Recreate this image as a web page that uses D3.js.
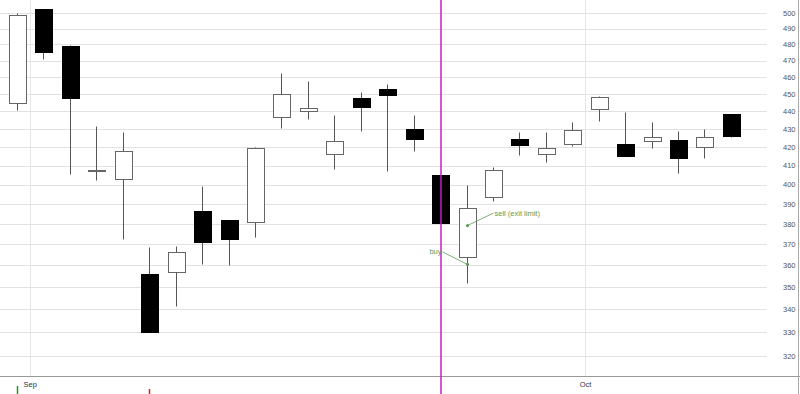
<!DOCTYPE html>
<html>
<head>
<meta charset="utf-8">
<script src="https://cdn.jsdelivr.net/npm/d3@7"></script>
<style>
  body { margin: 0; background: #fff; }
  #chart { width: 800px; height: 394px; }
  text { font-family: "Liberation Sans", Arial, sans-serif; }
</style>
</head>
<body>
<div id="chart"></div>
<script>
// trading days (Aug 31 .. Oct 8)
const dates = ['2009-08-31',
    '2009-09-01','2009-09-02','2009-09-03','2009-09-04','2009-09-08','2009-09-09','2009-09-10',
    '2009-09-11','2009-09-14','2009-09-15','2009-09-16','2009-09-17','2009-09-18','2009-09-21',
    '2009-09-22','2009-09-23','2009-09-24','2009-09-25','2009-09-28','2009-09-29','2009-09-30',
    '2009-10-01','2009-10-02','2009-10-05','2009-10-06','2009-10-07','2009-10-08'];
const opens  = [444.7, 502.6, 479.2, 407.5, 402.9, 355.9, 356.8, 386.3, 381.9, 381.1, 436.9, 440.2, 416.0, 447.8,
                452.9, 429.8, 405.0, 363.9, 393.7, 424.6, 416.2, 421.5, 441.1, 421.5, 423.4, 423.8, 420.0, 438.6];
const highs  = [500.0, 502.8, 479.4, 431.6, 428.1, 368.9, 369.2, 399.2, 382.0, 420.2, 462.3, 457.9, 437.8, 451.0,
                455.9, 438.0, 405.1, 399.7, 409.4, 428.5, 428.5, 434.1, 449.0, 439.4, 434.1, 429.0, 430.0, 438.7];
const lows   = [440.7, 470.9, 405.5, 402.3, 372.5, 330.0, 341.5, 360.6, 360.2, 373.4, 430.7, 435.4, 407.9, 428.8,
                407.2, 417.8, 380.5, 351.7, 391.5, 415.8, 411.7, 420.5, 434.6, 415.0, 419.6, 406.2, 413.9, 425.7];
const closes = [498.7, 475.3, 447.5, 407.6, 418.0, 330.3, 366.2, 371.3, 372.7, 419.3, 449.8, 441.7, 423.3, 442.6,
                449.6, 424.4, 380.6, 387.8, 407.6, 421.3, 419.3, 429.4, 448.1, 415.1, 425.5, 414.0, 425.3, 426.0];

const yTicks = [320, 330, 340, 350, 360, 370, 380, 390, 400, 410, 420, 430, 440, 450, 460, 470, 480, 490, 500];
const monthStarts = ['2009-09-01', '2009-10-01'];
const monthLabels = ['Sep', 'Oct'];

const cursorDate = '2009-09-23';
const tradeDates = ['2009-09-24', '2009-09-24'];
const tradePrices = [360.5, 379.2];
const tradeLabels = ['buy', 'sell (exit limit)'];
const markDates = ['2009-08-31', '2009-09-08'];
const markSides = ['buy', 'sell'];

const candles = dates.map((d, i) => ({date: d, open: opens[i], high: highs[i], low: lows[i], close: closes[i]}));

const W = 800, H = 394;
const plotRight = 767, plotBottom = 376;

const svg = d3.select('#chart').append('svg')
    .attr('width', W)
    .attr('height', H)
    .style('display', 'block');

const x = d3.scaleBand()
    .domain(dates)
    .range([3.8, 3.8 + 26.44 * dates.length])
    .padding(0);

const y = d3.scaleLog()
    .domain([320, 500])
    .range([356, 13]);

const cx = d => Math.round(x(d) + x.bandwidth() / 2) + 0.5;
const py = v => Math.round(y(v)) + 0.5;

// horizontal grid + right labels
const yAxis = d3.axisRight(y)
    .tickValues(yTicks)
    .tickFormat(d3.format('d'))
    .tickSize(-plotRight)
    .tickPadding(16);

const gy = svg.append('g')
    .attr('class', 'y-axis')
    .attr('transform', `translate(${plotRight},0)`)
    .call(yAxis);
gy.select('.domain').remove();
gy.selectAll('.tick line').attr('stroke', '#e2e2e2').attr('shape-rendering', 'crispEdges');
gy.selectAll('.tick text')
    .attr('fill', '#555')
    .attr('font-size', '7.5px');

// month grid lines and labels
svg.selectAll('.month-line')
    .data(monthStarts)
    .join('line')
    .attr('class', 'month-line')
    .attr('x1', d => Math.round(x(d)) + 0.5)
    .attr('x2', d => Math.round(x(d)) + 0.5)
    .attr('y1', 0)
    .attr('y2', plotBottom)
    .attr('stroke', '#e6e6e6');

svg.selectAll('.month-label')
    .data(monthStarts)
    .join('text')
    .attr('class', 'month-label')
    .attr('x', d => x(d))
    .attr('y', 387)
    .attr('text-anchor', 'middle')
    .attr('font-size', '7.5px')
    .attr('fill', '#333')
    .text((d, i) => monthLabels[i]);

// bottom axis line and right border
svg.append('line')
    .attr('x1', 0).attr('x2', W)
    .attr('y1', plotBottom + 0.5).attr('y2', plotBottom + 0.5)
    .attr('stroke', '#999');

svg.append('line')
    .attr('x1', W - 1.5).attr('x2', W - 1.5)
    .attr('y1', 0).attr('y2', H)
    .attr('stroke', '#aaa');

// wicks
svg.selectAll('.wick')
    .data(candles)
    .join('line')
    .attr('class', 'wick')
    .attr('x1', d => cx(d.date))
    .attr('x2', d => cx(d.date))
    .attr('y1', d => py(d.high))
    .attr('y2', d => py(d.low))
    .attr('stroke', '#555');

// bodies
const bw = 17;
svg.selectAll('.body')
    .data(candles)
    .join('rect')
    .attr('class', 'body')
    .attr('x', d => cx(d.date) - bw / 2)
    .attr('width', bw)
    .attr('y', d => py(Math.max(d.open, d.close)))
    .attr('height', d => Math.max(1, py(Math.min(d.open, d.close)) - py(Math.max(d.open, d.close))))
    .attr('fill', d => d.close < d.open ? '#000' : '#fff')
    .attr('stroke', d => d.close < d.open ? '#000' : '#666')
    .attr('shape-rendering', 'crispEdges');

// cursor line
svg.append('line')
    .attr('x1', cx(cursorDate) + 0.5)
    .attr('x2', cx(cursorDate) + 0.5)
    .attr('y1', 0)
    .attr('y2', H)
    .attr('stroke', '#c31ccf')
    .attr('stroke-width', 1.5);

// trade annotations
const annColor = '#5f9a55';
const trades = tradeDates.map((d, i) => ({date: d, price: tradePrices[i], label: tradeLabels[i]}));
const ann = svg.selectAll('.trade')
    .data(trades)
    .join('g')
    .attr('class', 'trade')
    .attr('transform', d => `translate(${cx(d.date)},${y(d.price)})`);

ann.append('line')
    .attr('x1', 0).attr('y1', 0)
    .attr('x2', d => d.label === 'buy' ? -25 : 26)
    .attr('y2', -12.5)
    .attr('stroke', annColor)
    .attr('stroke-width', 0.8);

ann.append('circle')
    .attr('r', 1.6)
    .attr('fill', annColor);

ann.append('text')
    .attr('x', d => d.label === 'buy' ? -26 : 27)
    .attr('y', -10)
    .attr('text-anchor', d => d.label === 'buy' ? 'end' : 'start')
    .attr('font-size', '7.5px')
    .attr('fill', annColor)
    .text(d => d.label);

// trade marks under the axis
svg.selectAll('.mark')
    .data(markDates)
    .join('line')
    .attr('class', 'mark')
    .attr('x1', d => cx(d))
    .attr('x2', d => cx(d))
    .attr('y1', (d, i) => markSides[i] === 'buy' ? 386 : 389)
    .attr('y2', H)
    .attr('stroke', (d, i) => markSides[i] === 'buy' ? '#1f9a1f' : '#d42020')
    .attr('stroke-width', 1.5);
</script>
</body>
</html>
